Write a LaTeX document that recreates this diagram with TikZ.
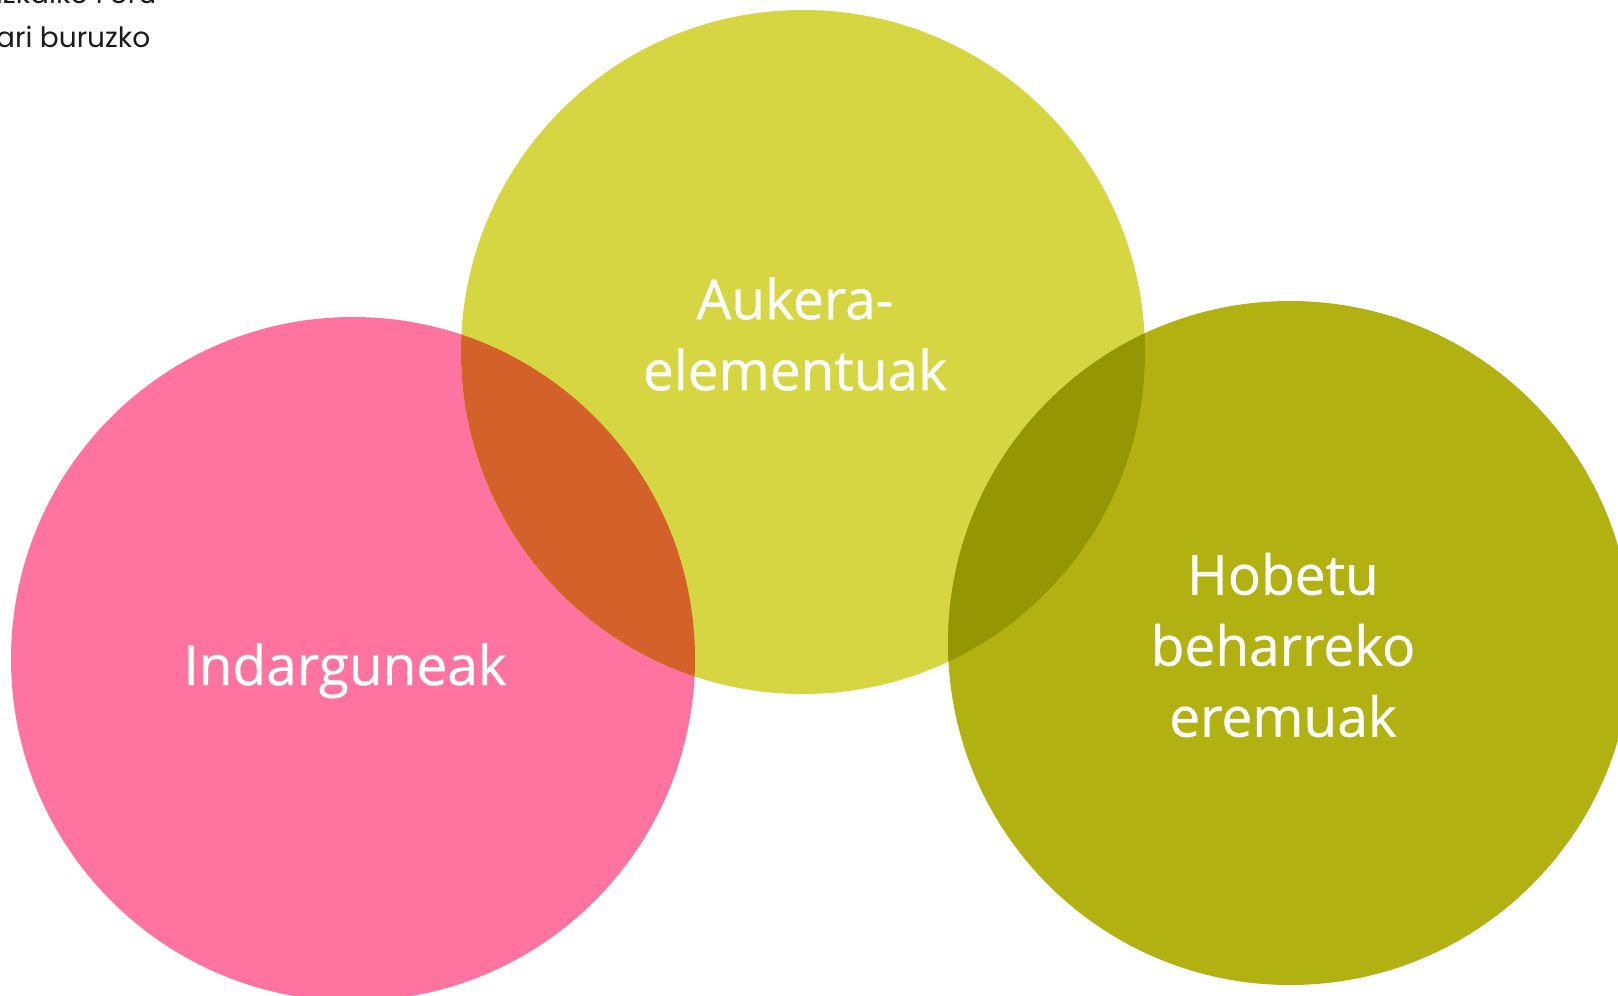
\documentclass[tikz,border=0pt]{standalone}
\usepackage{fontspec}
\setmainfont{Open Sans}
\newfontfamily\labelfont[FakeBold=0.6]{Open Sans}
\newfontfamily\notefont{Poppins}
\usepackage{tikz}
\usetikzlibrary{calc}
\usepackage{xcolor}
\definecolor{soft_pink}{HTML}{FF73A0}
\definecolor{lime_yellow}{HTML}{D5D641}
\definecolor{olive_green}{HTML}{B1B112}
\definecolor{burnt_orange}{HTML}{D4602A}
\definecolor{dark_olive}{HTML}{949603}
\definecolor{note_grey}{HTML}{1A1A1A}
\tikzset{
	venn_label/.style={text=white, align=center, font=\labelfont\fontsize{55}{71}\selectfont, inner sep=0pt},
	note_label/.style={text=note_grey, align=left, font=\notefont\fontsize{28}{44}\selectfont, inner sep=0pt}
}

\begin{document}
\begin{tikzpicture}[x=1pt, y=-1pt]
	\useasboundingbox (0, 0) rectangle (1618, 996);
	\coordinate (P) at (353, 659);
	\coordinate (Y) at (803, 352);
	\coordinate (O) at (1290, 643);
	\fill[soft_pink] (P) circle(342);
	\fill[lime_yellow] (Y) circle(342);
	\fill[olive_green] (O) circle(342);
	\begin{scope}
		\clip (P) circle(342);
		\fill[burnt_orange] (Y) circle(342);
	\end{scope}
	\begin{scope}
		\clip (Y) circle(342);
		\fill[dark_olive] (O) circle(342);
	\end{scope}
	\node[note_label, anchor=base west] (note) at (-4, 47) {izkaiko Foru\\ari buruzko};
	\node[venn_label, anchor=base] (strengths) at (345, 685) {Indarguneak};
	\node[venn_label] (chances) at ($(Y) + (-8, -18)$) {Aukera-\\elementuak};
	\node[venn_label] (improve) at ($(O) + (-7, 2)$) {Hobetu\\beharreko\\eremuak};
\end{tikzpicture}
\end{document}
